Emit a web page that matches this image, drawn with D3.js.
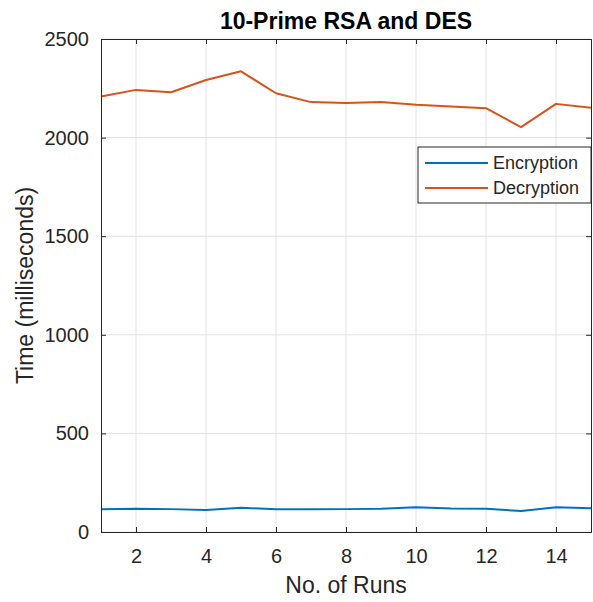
<!DOCTYPE html>
<html>
<head>
<meta charset="utf-8">
<script src="https://cdn.jsdelivr.net/npm/d3@7"></script>
<style>
  body { margin: 0; background: #fff; }
  text { font-family: "Liberation Sans", Arial, sans-serif; fill: #262626; }
</style>
</head>
<body>
<div class="chart"></div>
<script>
// values
var runs = [1, 2, 3, 4, 5, 6, 7, 8, 9, 10, 11, 12, 13, 14, 15];
var encryption = [115, 118, 116, 111, 123, 115, 115, 116, 118, 125, 119, 118, 106, 126, 121];
var decryption = [2208, 2242, 2230, 2292, 2336, 2225, 2180, 2175, 2180, 2166, 2158, 2149, 2053, 2171, 2151];
var xTicks = [2, 4, 6, 8, 10, 12, 14];
var yTicks = [0, 500, 1000, 1500, 2000, 2500];
var seriesNames = ["Encryption", "Decryption"];
var seriesColors = ["#0072BD", "#D95319"];

var svgWidth = 593, svgHeight = 602;
var margin = { top: 39, right: 2, bottom: 70, left: 101 };
var width = svgWidth - margin.left - margin.right;
var height = svgHeight - margin.top - margin.bottom;

var svg = d3.select(".chart")
    .append("svg")
    .attr("width", svgWidth)
    .attr("height", svgHeight);

var chart = svg.append("g")
    .attr("transform", "translate(" + margin.left + "," + margin.top + ")");

var xScale = d3.scaleLinear().domain([1, 15]).range([0, width]);
var yScale = d3.scaleLinear().domain([0, 2500]).range([height, 0]);

// grid
chart.append("g").selectAll("line")
    .data(xTicks).enter().append("line")
    .attr("x1", function(d) { return xScale(d); })
    .attr("x2", function(d) { return xScale(d); })
    .attr("y1", 0).attr("y2", height)
    .attr("stroke", "#e3e3e3").attr("stroke-width", 1);

chart.append("g").selectAll("line")
    .data(yTicks).enter().append("line")
    .attr("x1", 0).attr("x2", width)
    .attr("y1", function(d) { return yScale(d); })
    .attr("y2", function(d) { return yScale(d); })
    .attr("stroke", "#e3e3e3").attr("stroke-width", 1);

// series lines
var series = [encryption, decryption];
var line = d3.line()
    .x(function(d, i) { return xScale(runs[i]); })
    .y(function(d) { return yScale(d); });

series.forEach(function(values, k) {
    chart.append("path")
        .datum(values)
        .attr("fill", "none")
        .attr("stroke", seriesColors[k])
        .attr("stroke-width", 2)
        .attr("stroke-linejoin", "round")
        .attr("d", line);
});

// axes, matlab style: inward ticks on all four sides
var bottomAxis = d3.axisBottom(xScale).tickValues(xTicks).tickSize(-5).tickPadding(17).tickFormat(d3.format("d"));
var leftAxis = d3.axisLeft(yScale).tickValues(yTicks).tickSize(-5).tickPadding(12).tickFormat(d3.format("d"));
var topAxis = d3.axisTop(xScale).tickValues(xTicks).tickSize(-5).tickFormat("");
var rightAxis = d3.axisRight(yScale).tickValues(yTicks).tickSize(-5).tickFormat("");

function styleAxis(g) {
    g.select(".domain").attr("stroke", "#262626").attr("stroke-width", 1);
    g.selectAll(".tick line").attr("stroke", "#262626");
    g.selectAll(".tick text")
        .style("font-family", "'Liberation Sans', Arial, sans-serif")
        .style("font-size", "20px")
        .attr("fill", "#262626");
}

chart.append("g")
    .attr("transform", "translate(0," + height + ")")
    .call(bottomAxis).call(styleAxis);
chart.append("g").call(leftAxis).call(styleAxis);
chart.append("g").call(topAxis).call(styleAxis);
chart.append("g")
    .attr("transform", "translate(" + width + ",0)")
    .call(rightAxis).call(styleAxis);

// title and labels
svg.append("text")
    .attr("x", margin.left + width / 2)
    .attr("y", 29)
    .attr("text-anchor", "middle")
    .style("font-size", "23px")
    .style("font-weight", "bold")
    .style("fill", "#000")
    .text("10-Prime RSA and DES");

svg.append("text")
    .attr("x", margin.left + width / 2)
    .attr("y", 593)
    .attr("text-anchor", "middle")
    .style("font-size", "23px")
    .text("No. of Runs");

svg.append("text")
    .attr("transform", "translate(33," + (margin.top + height / 2) + ") rotate(-90)")
    .attr("text-anchor", "middle")
    .style("font-size", "23px")
    .text("Time (milliseconds)");

// legend
var legend = chart.append("g")
    .attr("transform", "translate(" + (width - 173) + ",108)");

legend.append("rect")
    .attr("width", 173).attr("height", 56)
    .attr("fill", "#fff").attr("stroke", "#262626").attr("stroke-width", 1);

seriesNames.forEach(function(name, k) {
    var ly = 16 + k * 25;
    legend.append("line")
        .attr("x1", 7).attr("x2", 70)
        .attr("y1", ly).attr("y2", ly)
        .attr("stroke", seriesColors[k]).attr("stroke-width", 2);
    legend.append("text")
        .attr("x", 75).attr("y", ly)
        .attr("dy", "0.35em")
        .style("font-size", "18px")
        .text(name);
});
</script>
</body>
</html>
